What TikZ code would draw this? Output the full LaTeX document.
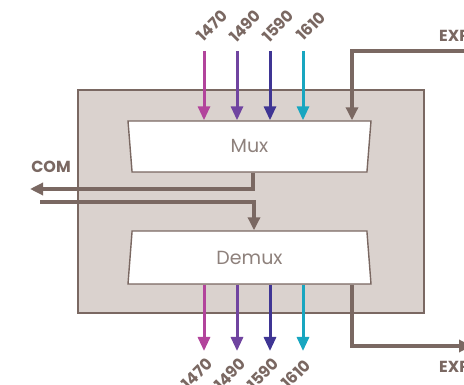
\documentclass[tikz,border=0pt]{standalone}
\usepackage{fontspec}
\setmainfont{Poppins}
\usepackage{xcolor}
\usetikzlibrary{shapes,shapes.geometric,arrows.meta,calc,backgrounds}
\pgfdeclarelayer{edgelayer}
\pgfdeclarelayer{nodelayer}
\pgfsetlayers{background,edgelayer,nodelayer,main}
\definecolor{taupe}{HTML}{7A6862}
\definecolor{boxfill}{HTML}{DAD2CE}
\definecolor{lblgray}{HTML}{8E817C}
\definecolor{w1470}{HTML}{B2449C}
\definecolor{w1490}{HTML}{7044A0}
\definecolor{w1590}{HTML}{3F3594}
\definecolor{w1610}{HTML}{18A6C0}
\tikzstyle{none}=[inner sep=0mm]
\tikzstyle{chassis}=[draw=taupe,fill=boxfill,line width=1.4pt]
\tikzstyle{filterbox}=[trapezium,draw=taupe,fill=white,line width=1.4pt,trapezium stretches body,minimum width=243pt,trapezium angle=73,inner sep=0pt,text=lblgray,font=\fontsize{19}{19}\selectfont]
\tikzstyle{wave}=[line width=3pt,-{Triangle[width=12pt,length=14pt]}]
\tikzstyle{fiber}=[draw=taupe,line width=3.2pt,line join=miter,-{Triangle[width=12pt,length=13pt]}]
\tikzstyle{wl}=[inner sep=0mm,rotate=45,text=taupe,font=\bfseries\fontsize{16}{16}\selectfont]
\tikzstyle{port}=[inner sep=0mm,text=taupe,font=\bfseries\fontsize{16}{16}\selectfont]

\begin{document}
\begin{tikzpicture}[x=1pt,y=-1pt]
	\useasboundingbox (0,0) rectangle (464,385);
	\begin{pgfonlayer}{background}
		\fill [white] (0,0) rectangle (464,385);
		\draw [style=chassis] (78,90) rectangle (424,313);
	\end{pgfonlayer}
	\begin{pgfonlayer}{nodelayer}
		\node [style=filterbox,shape border rotate=180,minimum height=51pt] (mux) at (249.5,146.5) {Mux};
		\node [style=filterbox,minimum height=53pt] (demux) at (249.5,257.5) {Demux};
		% wavelength labels
		\node [style=wl] (l1470) at (212,26) {1470};
		\node [style=wl] (l1490) at (245,26) {1490};
		\node [style=wl] (l1590) at (278,26) {1590};
		\node [style=wl] (l1610) at (311,26) {1610};
		\node [style=wl] (r1470) at (197,374) {1470};
		\node [style=wl] (r1490) at (230,374) {1490};
		\node [style=wl] (r1590) at (263,374) {1590};
		\node [style=wl] (r1610) at (296,374) {1610};
		\node [style=port] (com) at (51,167) {COM};
		\node [style=port,anchor=west] (expa) at (439,36) {EXP};
		\node [style=port,anchor=west] (expb) at (439,367) {EXP};
		% line ends
		\node [style=none] (a1470) at (204,51) {};
		\node [style=none] (a1490) at (237,51) {};
		\node [style=none] (a1590) at (270,51) {};
		\node [style=none] (a1610) at (303,51) {};
		\node [style=none] (b1470) at (204,351) {};
		\node [style=none] (b1490) at (237,351) {};
		\node [style=none] (b1590) at (270,351) {};
		\node [style=none] (b1610) at (303,351) {};
		\node [style=none] (expin) at (470,51) {};
		\node [style=none] (expdrop) at (352,51) {};
		\node [style=none] (exprise) at (352,346) {};
		\node [style=none] (expout) at (472,346) {};
		\node [style=none] (comturn) at (253,189) {};
		\node [style=none] (comout) at (30,189) {};
		\node [style=none] (comin) at (40,202) {};
		\node [style=none] (comdrop) at (254,202) {};
	\end{pgfonlayer}
	\begin{pgfonlayer}{edgelayer}
		\draw [style=wave,draw=w1470,color=w1470] (a1470.center) to (a1470.center |- mux.north);
		\draw [style=wave,draw=w1490,color=w1490] (a1490.center) to (a1490.center |- mux.north);
		\draw [style=wave,draw=w1590,color=w1590] (a1590.center) to (a1590.center |- mux.north);
		\draw [style=wave,draw=w1610,color=w1610] (a1610.center) to (a1610.center |- mux.north);
		\draw [style=wave,draw=w1470,color=w1470] (b1470.center |- demux.south) to (b1470.center);
		\draw [style=wave,draw=w1490,color=w1490] (b1490.center |- demux.south) to (b1490.center);
		\draw [style=wave,draw=w1590,color=w1590] (b1590.center |- demux.south) to (b1590.center);
		\draw [style=wave,draw=w1610,color=w1610] (b1610.center |- demux.south) to (b1610.center);
		\draw [style=fiber,color=taupe] (expin.center) -- (expdrop.center) -- (expdrop.center |- mux.north);
		\draw [style=fiber,color=taupe] (exprise.center |- demux.south) -- (exprise.center) -- (expout.center);
		\draw [style=fiber,color=taupe] (comturn.center |- mux.south) -- (comturn.center) -- (comout.center);
		\draw [style=fiber,color=taupe] (comin.center) -- (comdrop.center) -- (comdrop.center |- demux.north);
	\end{pgfonlayer}
\end{tikzpicture}
\end{document}
